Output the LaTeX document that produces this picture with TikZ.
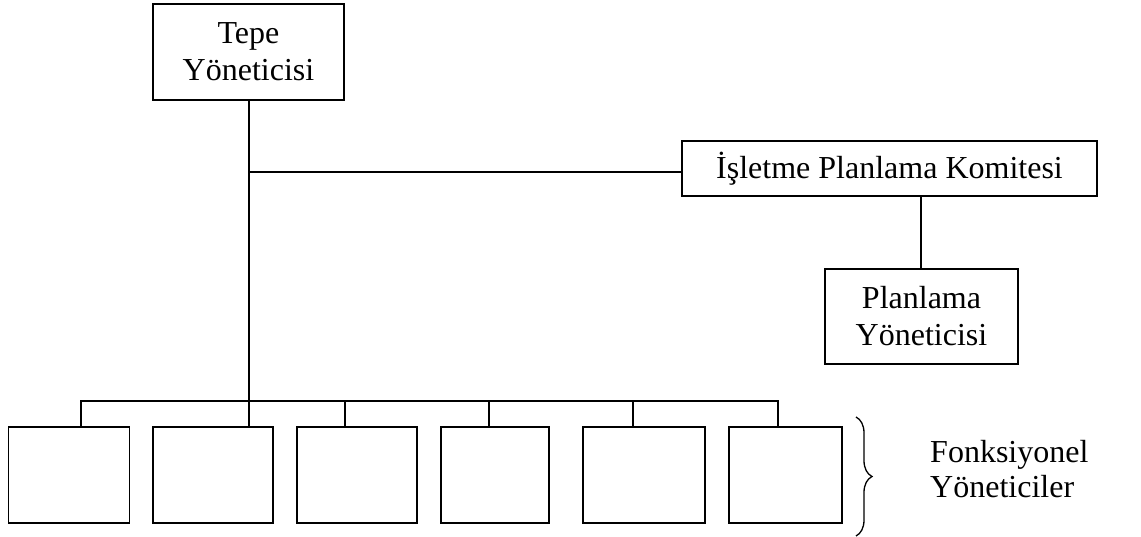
\documentclass[tikz,border=0pt]{standalone}
\usepackage{fontspec}
\setmainfont{Liberation Serif}
\usetikzlibrary{decorations.pathreplacing}
\begin{document}
\begin{tikzpicture}[x=1pt,y=-1pt,
  box/.style={draw,line width=1.6pt,inner sep=0pt,align=center,font=\fontsize{32}{37}\selectfont},
  conn/.style={line width=1.6pt},
  lbl/.style={font=\fontsize{32}{37}\selectfont,inner sep=0pt,anchor=base west}]
\useasboundingbox (0,0) rectangle (1141,537);
\node[box,minimum width=191pt,minimum height=96pt] (top) at (248.5,52) {Tepe\\Yöneticisi};
\node[box,minimum width=415pt,minimum height=55pt] (kom) at (889.5,168.5) {İşletme Planlama Komitesi};
\node[box,minimum width=193pt,minimum height=95pt] (plan) at (921.5,316.5) {Planlama\\Yöneticisi};
\node[box,minimum width=121pt,minimum height=96pt] (b1) at (69,475) {};
\node[box,minimum width=120pt,minimum height=96pt] (b2) at (213,475) {};
\node[box,minimum width=120pt,minimum height=96pt] (b3) at (357,475) {};
\node[box,minimum width=108pt,minimum height=96pt] (b4) at (495,475) {};
\node[box,minimum width=122pt,minimum height=96pt] (b5) at (644,475) {};
\node[box,minimum width=113pt,minimum height=96pt] (b6) at (785.5,475) {};
\coordinate (bus) at (249,401);
\coordinate (junc) at (249,172);
\coordinate (kp) at (921,300);
\coordinate (s1) at (81,401);
\coordinate (s3) at (345,401);
\coordinate (s4) at (489,401);
\coordinate (s5) at (633,401);
\coordinate (s6) at (778,401);
\draw[conn] (top.south -| bus) -- (bus);
\draw[conn] (junc) -- (junc -| kom.west);
\draw[conn] (kp |- kom.south) -- (kp |- plan.north);
\draw[conn] (s1 |- b1.north) -- (s1) -- (s6) -- (s6 |- b6.north);
\draw[conn] (bus) -- (bus |- b2.north);
\draw[conn] (s3) -- (s3 |- b3.north);
\draw[conn] (s4) -- (s4 |- b4.north);
\draw[conn] (s5) -- (s5 |- b5.north);
\coordinate (brtop) at (856,417);
\coordinate (brbot) at (856,536);
\draw[line width=1.3pt,decorate,decoration={brace,amplitude=16pt}] (brtop) -- (brbot);
\node[lbl] (f1) at (930,462) {Fonksiyonel};
\node[lbl] (f2) at (930,497) {Yöneticiler};
\end{tikzpicture}
\end{document}
